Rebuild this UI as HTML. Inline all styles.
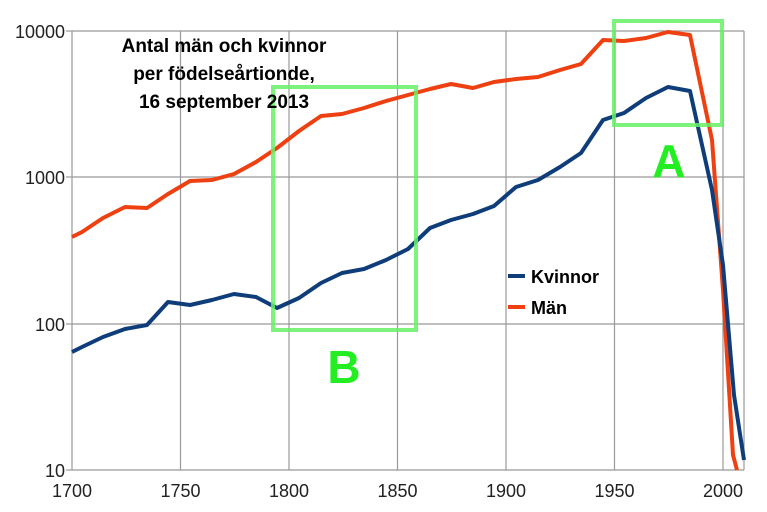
<!DOCTYPE html>
<html><head><meta charset="utf-8"><style>body{margin:0;background:#fff}svg{display:block}</style></head><body>
<svg width="767" height="512" xmlns="http://www.w3.org/2000/svg" font-family="Liberation Sans, sans-serif">
<g stroke="#999" stroke-width="1.2" fill="none">
<line x1="72" y1="31" x2="744" y2="31"/><line x1="72" y1="177" x2="744" y2="177"/><line x1="72" y1="324" x2="744" y2="324"/><line x1="72" y1="470" x2="744" y2="470"/>
<line x1="72" y1="31" x2="72" y2="470"/><line x1="180.5" y1="31" x2="180.5" y2="470"/><line x1="289" y1="31" x2="289" y2="470"/><line x1="397.5" y1="31" x2="397.5" y2="470"/><line x1="506" y1="31" x2="506" y2="470"/><line x1="614.5" y1="31" x2="614.5" y2="470"/><line x1="723" y1="31" x2="723" y2="470"/><line x1="744" y1="31" x2="744" y2="470"/>
<line x1="66" y1="31" x2="72" y2="31"/><line x1="66" y1="177" x2="72" y2="177"/><line x1="66" y1="324" x2="72" y2="324"/><line x1="66" y1="470" x2="72" y2="470"/>
</g>
<g font-size="18" fill="#222" text-anchor="end">
<text x="65" y="38">10000</text><text x="65" y="184">1000</text><text x="65" y="331">100</text><text x="65" y="477">10</text>
</g>
<g font-size="18" fill="#222" text-anchor="middle">
<text x="72" y="497">1700</text><text x="180.5" y="497">1750</text><text x="289" y="497">1800</text><text x="397.5" y="497">1850</text><text x="506" y="497">1900</text><text x="614.5" y="497">1950</text><text x="723" y="497">2000</text>
</g>
<polyline fill="none" stroke="#ee4010" stroke-width="4" stroke-linejoin="round" points="72,237 82,232 103,218 125,207 147,208 168,194 190,181 212,180 234,174 256,162 277,148 299,131 321,116 342,114 364,108 386,101 408,95 430,89 451,84 473,88 494,82 516,79 538,77 560,70 581,64 603,40 624,41 646,38 668,32 690,35 712,140 723,290 733,455 737,470"/>
<polyline fill="none" stroke="#0f3d7a" stroke-width="4" stroke-linejoin="round" points="72,352 82,347 103,337 125,329 147,325 168,302 190,305 212,300 234,294 256,297 277,308 299,298 321,283 342,273 364,269 386,260 408,249 430,228 451,220 473,214 494,206 516,187 538,180 560,167 581,153 603,120 624,113 646,98 668,87 690,91 712,190 723,265 734,395 744,460"/>
<g fill="none" stroke="#66f066" stroke-opacity="0.85" stroke-width="4">
<rect x="614" y="21" width="108" height="104"/>
<rect x="273" y="87" width="143" height="243"/>
</g>
<g font-weight="bold" fill="#22ee22" font-size="46" text-anchor="middle">
<text x="669" y="177">A</text><text x="344" y="383">B</text>
</g>
<g font-weight="bold" font-size="19" fill="#000" text-anchor="middle">
<text x="224" y="52">Antal män och kvinnor</text>
<text x="224" y="80">per födelseårtionde,</text>
<text x="224" y="108">16 september 2013</text>
</g>
<line x1="508" y1="276" x2="525" y2="276" stroke="#0f3d7a" stroke-width="4"/>
<line x1="508" y1="307" x2="525" y2="307" stroke="#ee4010" stroke-width="4"/>
<g font-weight="bold" font-size="18" fill="#000">
<text x="531" y="283">Kvinnor</text><text x="531" y="314">Män</text>
</g>
</svg>
</body></html>
